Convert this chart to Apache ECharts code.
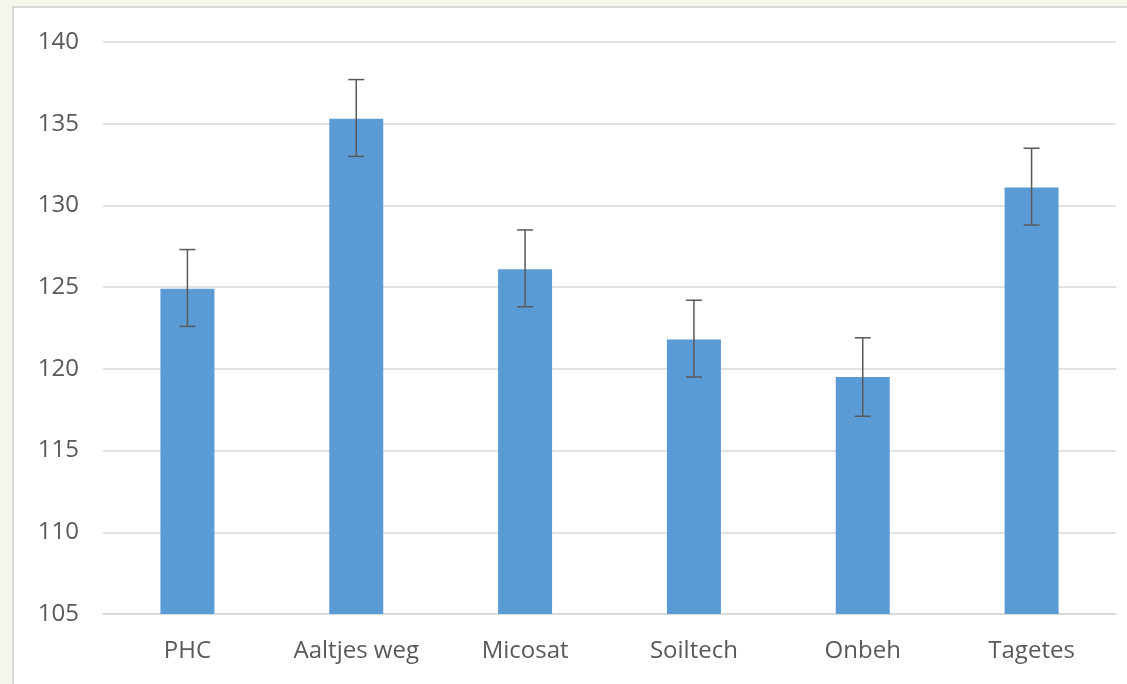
<!DOCTYPE html>
<html><head><meta charset="utf-8">
<script src="https://cdn.jsdelivr.net/npm/echarts@6/dist/echarts.min.js"></script>
<style>html,body{margin:0;padding:0;background:#f4f5eb;}#c{width:1127px;height:684px;}</style>
</head><body><div id="c"></div>
<script>
var categories = ['PHC', 'Aaltjes weg', 'Micosat', 'Soiltech', 'Onbeh', 'Tagetes'];
var values = [124.9, 135.3, 126.1, 121.8, 119.5, 131.1];
var errLow = [122.6, 133.0, 123.8, 119.5, 117.1, 128.8];
var errHigh = [127.3, 137.7, 128.5, 124.2, 121.9, 133.5];
var yTicks = [105, 110, 115, 120, 125, 130, 135, 140];

var chart = echarts.init(document.getElementById('c'));
var errData = categories.map(function (c, i) { return [i, errLow[i], errHigh[i]]; });
chart.setOption({
  backgroundColor: '#f4f5eb',
  animation: false,
  graphic: [{
    type: 'rect', z: -10, silent: true,
    shape: { x: 13, y: 7, width: 1130, height: 690 },
    style: { fill: '#ffffff', stroke: '#d9d9d9', lineWidth: 2 }
  }],
  grid: { left: 103, right: 11, top: 42, bottom: 70, containLabel: false },
  xAxis: {
    type: 'category', data: categories,
    axisLine: { show: true, lineStyle: { color: '#d9d9d9', width: 1.5 } },
    axisTick: { show: false },
    axisLabel: { color: '#595959', fontSize: 24, fontFamily: 'Open Sans', margin: 25 }
  },
  yAxis: {
    type: 'value', min: yTicks[0], max: yTicks[yTicks.length - 1], interval: 5,
    axisLine: { show: false }, axisTick: { show: false },
    splitLine: { lineStyle: { color: '#d9d9d9', width: 1.5 } },
    axisLabel: { color: '#595959', fontSize: 24, fontFamily: 'Open Sans', margin: 24 }
  },
  series: [{
    type: 'bar', data: values, barWidth: 54,
    itemStyle: { color: '#5b9bd5' }
  }, {
    type: 'custom', data: errData, z: 10,
    renderItem: function (params, api) {
      var x = api.value(0);
      var lo = api.coord([x, api.value(1)]);
      var hi = api.coord([x, api.value(2)]);
      var hw = 8;
      var st = { stroke: '#595959', lineWidth: 1.5 };
      return { type: 'group', children: [
        { type: 'line', shape: { x1: hi[0], y1: hi[1], x2: lo[0], y2: lo[1] }, style: st },
        { type: 'line', shape: { x1: hi[0] - hw, y1: hi[1], x2: hi[0] + hw, y2: hi[1] }, style: st },
        { type: 'line', shape: { x1: lo[0] - hw, y1: lo[1], x2: lo[0] + hw, y2: lo[1] }, style: st }
      ]};
    }
  }]
});
</script></body></html>
